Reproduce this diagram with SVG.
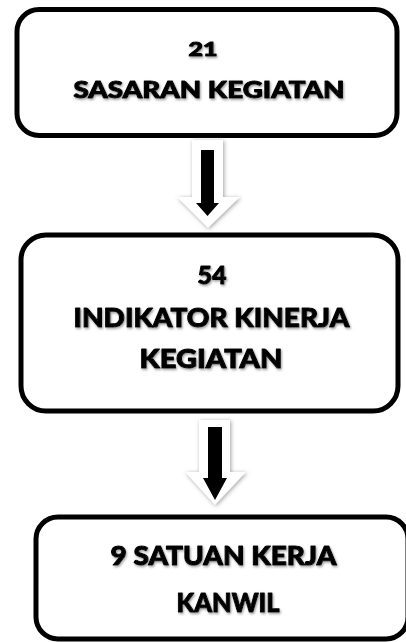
<svg xmlns="http://www.w3.org/2000/svg" width="406" height="642" viewBox="0 0 406 642">
<defs>
<filter id="glow" x="-30%" y="-30%" width="160%" height="160%">
<feDropShadow dx="1" dy="1" stdDeviation="2.2" flood-color="#888" flood-opacity="0.8"/>
</filter>
<filter id="tshadow" x="-10%" y="-30%" width="120%" height="160%">
<feDropShadow dx="1" dy="1.5" stdDeviation="1" flood-color="#777" flood-opacity="0.7"/>
</filter>
</defs>
<style>
.box{fill:#fff;stroke:#000;stroke-width:5}
.t{font-family:"Lato","Open Sans","DejaVu Sans",sans-serif;font-weight:900;fill:#000;stroke:#000;stroke-width:1;stroke-linejoin:round;text-anchor:middle;filter:url(#tshadow)}
.outer{fill:#fff;filter:url(#glow)}
.inner{fill:#000}
</style>
<rect width="406" height="642" fill="#fff"/>
<g id="node1">
<rect class="box" x="17" y="9.5" width="380" height="126" rx="22"/>
<text class="t" x="203" y="56" font-size="18" textLength="29" lengthAdjust="spacingAndGlyphs">21</text>
<text class="t" x="209" y="98" font-size="23" textLength="271" lengthAdjust="spacingAndGlyphs">SASARAN KEGIATAN</text>
</g>
<g id="node2">
<rect class="box" x="21" y="235" width="377" height="176" rx="25"/>
<text class="t" x="212" y="284" font-size="24" textLength="29" lengthAdjust="spacingAndGlyphs">54</text>
<text class="t" x="211.5" y="327" font-size="26" textLength="276" lengthAdjust="spacingAndGlyphs">INDIKATOR KINERJA</text>
<text class="t" x="211" y="368" font-size="26" textLength="143" lengthAdjust="spacingAndGlyphs">KEGIATAN</text>
</g>
<g id="node3">
<rect class="box" x="36" y="517" width="372" height="122" rx="22"/>
<text class="t" x="223.5" y="565" font-size="26" textLength="226" lengthAdjust="spacingAndGlyphs">9 SATUAN KERJA</text>
<text class="t" x="228" y="612" font-size="26" textLength="103" lengthAdjust="spacingAndGlyphs">KANWIL</text>
</g>
<g id="connectors">
<g id="arrow1">
<polygon class="outer" points="192,140 223,140 223,197 240,197 208,228 177,197 192,197"/>
<polygon class="inner" points="201,150 214,150 214,203 219,203 207.5,216 196,203 201,203"/>
</g>
<g id="arrow2">
<polygon class="outer" points="199,420 230,420 230,472 246,472 215,505 185,472 199,472"/>
<polygon class="inner" points="208,427 222,427 222,478 227,478 215,500 203,478 208,478"/>
</g>
</g>
</svg>
